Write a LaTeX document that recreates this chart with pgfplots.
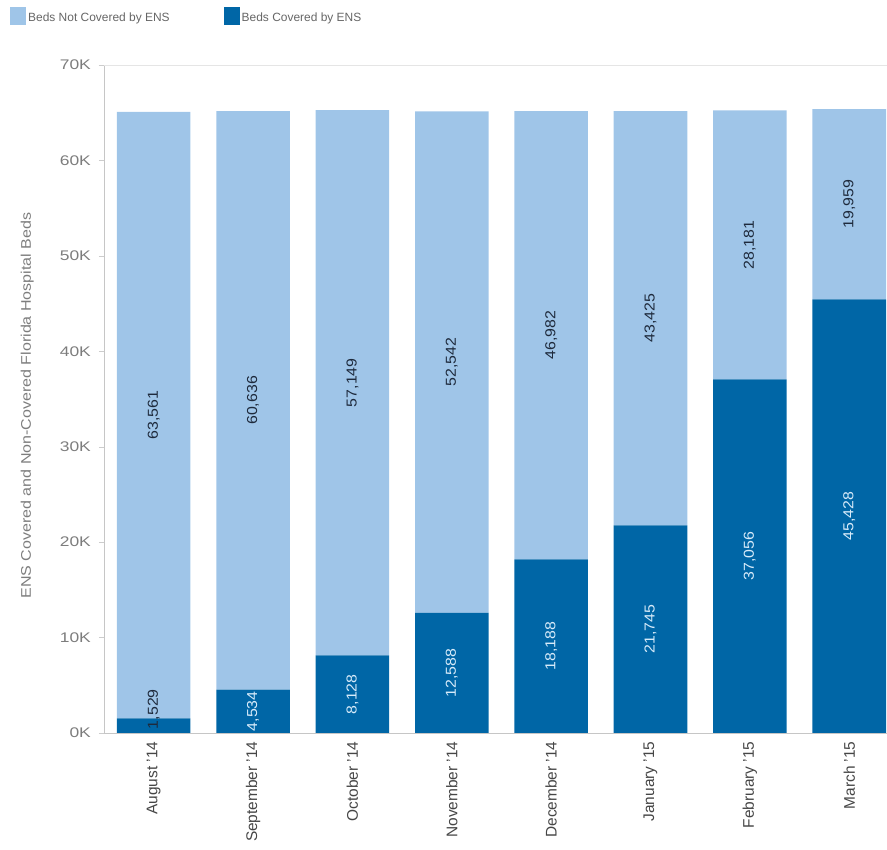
\documentclass[border=0pt]{standalone}
\usepackage{pgfplots}
\pgfplotsset{compat=1.18}
\usepackage{fontspec}
\setmainfont{Liberation Sans}

\definecolor{lightbed}{RGB}{159,197,232}
\definecolor{darkbed}{RGB}{0,102,166}
\definecolor{labdark}{RGB}{30,42,60}
\definecolor{lablight}{RGB}{215,235,250}
\definecolor{ticktext}{RGB}{125,125,125}
\definecolor{cattext}{RGB}{70,70,70}

% label positions: middle of each segment
\pgfplotstableread{
x y lab
1 2267 {4,534}
2 4064 {8,128}
3 6294 {12,588}
4 9094 {18,188}
5 10872 {21,745}
6 18528 {37,056}
7 22714 {45,428}
}\darklabels
\pgfplotstableread{
x y lab
0 2500 {1,529}
0 33310 {63,561}
1 34852 {60,636}
2 36702 {57,149}
3 38859 {52,542}
4 41679 {46,982}
5 43457 {43,425}
6 51146 {28,181}
7 55407 {19,959}
}\lightlabels

\begin{document}
\begin{tikzpicture}
\begin{axis}[
  name=ax,
  scale only axis,
  width=783bp, height=668bp,
  ybar stacked,
  bar width=0.74,
  xmin=-0.5, xmax=7.38,
  ymin=0, ymax=70000,
  scaled y ticks=false,
  axis x line*=bottom,
  axis y line*=left,
  axis line style={draw=gray!45},
  tick align=outside,
  xtick={0,...,7},
  xticklabels={August '14,September '14,October '14,November '14,December '14,January '15,February '15,March '15},
  xtick style={draw=none},
  xticklabel style={rotate=90, anchor=east, font=\fontsize{15.5}{15.5}\selectfont, text=cattext},
  extra x ticks={0.5,1.5,...,6.5},
  extra x tick labels={},
  extra x tick style={tick style={draw=gray!35}, major tick length=5bp},
  ytick={0,10000,...,70000},
  yticklabels={0K,10K,20K,30K,40K,50K,60K,70K},
  ytick style={draw=gray!40},
  major tick length=5bp,
  yticklabel style={font=\fontsize{14}{14}\selectfont, xscale=1.25, xshift=-3bp, text=ticktext},
  extra y ticks={70000},
  extra y tick labels={},
  extra y tick style={grid=major, major grid style={draw=gray!20}},
  ylabel={ENS Covered and Non-Covered Florida Hospital Beds},
  ylabel style={at={(axis description cs:-0.098,0.49)}, anchor=center, xscale=1.15,
    font=\fontsize{14}{14}\selectfont, text=ticktext},
  reverse legend,
  legend columns=2,
  legend style={at={(axis description cs:0,1)}, anchor=north west,
    xshift=-97bp, yshift=60bp, draw=none, fill=none,
    font=\fontsize{12}{12}\selectfont, text=gray!80!black,
    /tikz/every even column/.append style={column sep=52bp}},
  legend image code/.code={\fill[#1] (0bp,-7bp) rectangle (16bp,11bp);},
]
\addplot[fill=darkbed, draw=none] coordinates {
  (0,1529) (1,4534) (2,8128) (3,12588) (4,18188) (5,21745) (6,37056) (7,45428)};
\addplot[fill=lightbed, draw=none] coordinates {
  (0,63561) (1,60636) (2,57149) (3,52542) (4,46982) (5,43425) (6,28181) (7,19959)};
\legend{Beds Covered by ENS, Beds Not Covered by ENS}

\addplot[forget plot, stack plots=false, scatter, only marks, mark=*, mark size=0pt,
  mark options={draw=none, fill=none},
  point meta=explicit symbolic,
  scatter/@pre marker code/.code={\node[rotate=90, xscale=1.1, text=lablight,
    font=\fontsize{14.5}{14.5}\selectfont] {\pgfplotspointmeta};},
  scatter/@post marker code/.code={}]
  table[x=x, y=y, meta=lab] {\darklabels};
\addplot[forget plot, stack plots=false, scatter, only marks, mark=*, mark size=0pt,
  mark options={draw=none, fill=none},
  point meta=explicit symbolic,
  scatter/@pre marker code/.code={\node[rotate=90, xscale=1.1, text=labdark,
    font=\fontsize{14.5}{14.5}\selectfont] {\pgfplotspointmeta};},
  scatter/@post marker code/.code={}]
  table[x=x, y=y, meta=lab] {\lightlabels};
\end{axis}
\pgfresetboundingbox
\path[use as bounding box] ([shift={(-104bp,-117bp)}]ax.south west)
  rectangle ([shift={(0bp,65bp)}]ax.north east);
\end{tikzpicture}
\end{document}
